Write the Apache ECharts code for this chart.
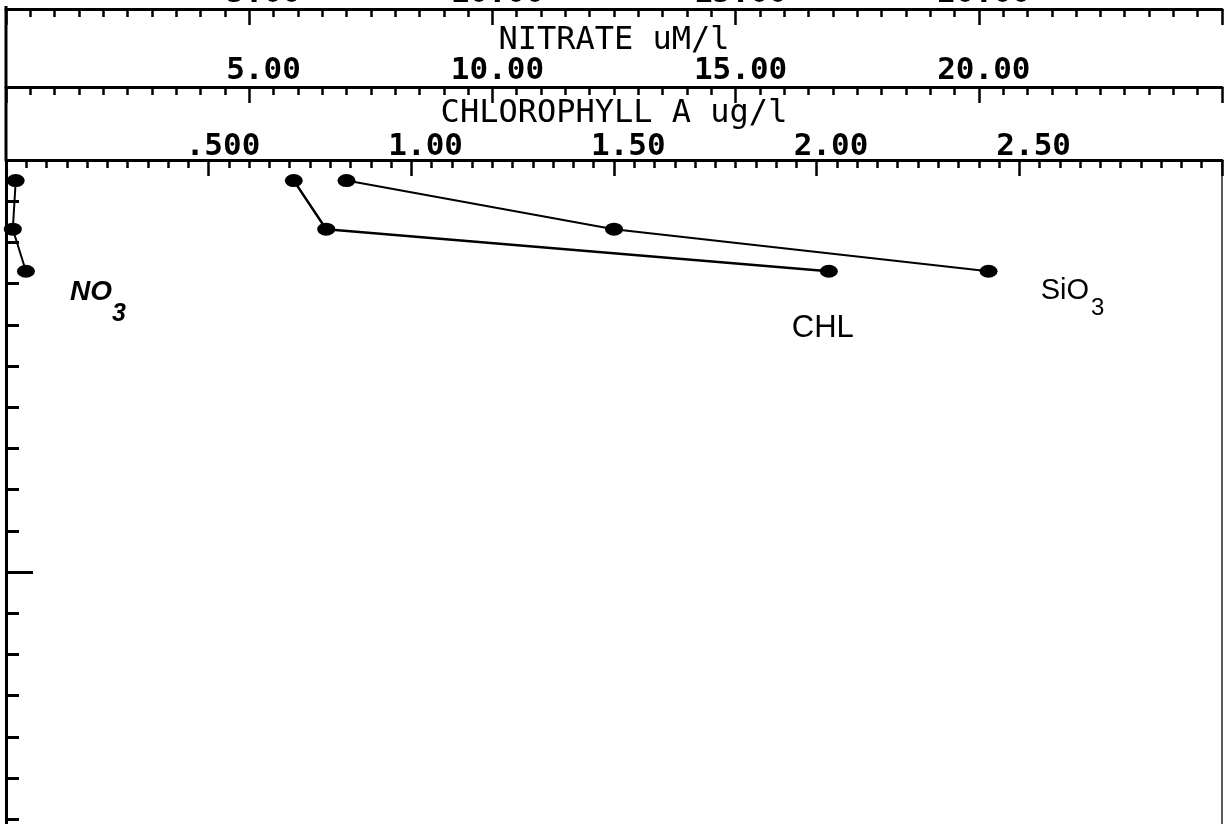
<!DOCTYPE html>
<html><head><meta charset="utf-8">
<script src="https://cdn.jsdelivr.net/npm/echarts@6/dist/echarts.min.js"></script>
<style>html,body{margin:0;padding:0;background:#fff}#c{width:1225px;height:824px}</style>
</head><body><div id="c"></div>
<script>
// ---- data ----
const depths   = [2.5, 8.4, 13.5];      // sample depths (depth axis, tick = 5)
const chlValues = [0.71, 0.79, 2.03];   // CHLOROPHYLL A ug/l
const no3Values = [0.20, 0.14, 0.41];   // NITRATE uM/l
const sio3Values = [7.0, 12.5, 20.2];   // SILICATE uM/l
const chlAxisName = 'CHLOROPHYLL A ug/l';
const no3AxisName = 'NITRATE uM/l';
const seriesNames = ['CHL', 'NO3', 'SiO3'];

// ---- layout / style ----
const GL = 6, GT = 160, GR = 3, GB = -160;
const labelFont = {fontFamily: 'DejaVu Sans Mono', fontWeight: 'bold', fontSize: 31, color: '#000'};
const nameFont = {fontFamily: 'DejaVu Sans Mono', fontWeight: 'normal', fontSize: 32, color: '#000'};
const annFont = 'Liberation Sans Narrow, Liberation Sans, sans-serif';

function fmtChl(v) { const s = v < 1 ? v.toFixed(3).slice(1) : v.toFixed(2); return s.padStart(5, ' '); }
function fmtConc(v) { return v.toFixed(2).padStart(5, ' '); }

function topAxis(min, max, interval, offset, fmt, name, nameGap, margin) {
  return {
    type: 'value', position: 'top', offset: offset, min: min, max: max, interval: interval,
    name: name || '', nameLocation: 'middle', nameGap: nameGap || 0, nameTextStyle: nameFont,
    nameMoveOverlap: false,
    axisLine: {show: true, onZero: false, lineStyle: {color: '#000', width: 3}},
    axisTick: {show: true, inside: true, length: 16, lineStyle: {color: '#000', width: 2.5}},
    minorTick: {show: true, splitNumber: 10, length: 8, lineStyle: {color: '#000', width: 2.5}},
    axisLabel: Object.assign({show: true, margin: margin, showMinLabel: false, showMaxLabel: false,
      formatter: fmt, padding: [0, 0, 0, 10]}, labelFont),
    splitLine: {show: false}, minorSplitLine: {show: false}
  };
}

function pts(xs) { return xs.map((x, i) => [x, depths[i]]); }

function annotate(arr, rich, text, offset) {
  const d = pts(arr);
  const last = d.length - 1;
  d[last] = {value: d[last], label: {show: true, position: 'inside', offset: offset,
    formatter: text, rich: rich}};
  return d;
}

const richUp = {
  a: {fontFamily: annFont, fontSize: 29, fontWeight: 'normal', color: '#000', lineHeight: 44, verticalAlign: 'top'},
  s: {fontFamily: annFont, fontSize: 24, fontWeight: 'normal', color: '#000', lineHeight: 44, verticalAlign: 'bottom', padding: [0, 0, 0, 2]}
};
const richIt = {
  a: {fontFamily: annFont, fontSize: 28, fontWeight: 'bold', fontStyle: 'italic', color: '#000', lineHeight: 48, verticalAlign: 'top'},
  s: {fontFamily: annFont, fontSize: 25, fontWeight: 'bold', fontStyle: 'italic', color: '#000', lineHeight: 48, verticalAlign: 'bottom', padding: [0, 0, 0, 0]}
};
const richChl = {
  a: {fontFamily: annFont, fontSize: 31, fontWeight: 'normal', color: '#000'}
};

const marker = {symbol: 'circle', symbolSize: [18, 13], itemStyle: {color: '#000'}};

const chart = echarts.init(document.getElementById('c'), null, {renderer: 'canvas'});
chart.setOption({
  backgroundColor: '#fff',
  animation: false,
  grid: {left: GL, top: GT, right: GR, bottom: GB, containLabel: false, outerBoundsMode: 'none'},
  xAxis: [
    topAxis(0, 3, 0.5, 0, fmtChl, chlAxisName, 30, -2),
    topAxis(0, 25, 5, 73, fmtConc, no3AxisName, 30, 1),
    topAxis(0, 25, 5, 151, fmtConc, '', 0, 0)
  ],
  yAxis: [
    {type: 'value', inverse: true, min: 0, max: 100, interval: 50, position: 'left',
     axisLine: {show: true, onZero: false, lineStyle: {color: '#000', width: 3}},
     axisTick: {show: true, inside: true, length: 27, lineStyle: {color: '#000', width: 3}},
     minorTick: {show: true, splitNumber: 10, length: 13, lineStyle: {color: '#000', width: 3}},
     axisLabel: {show: false}, splitLine: {show: false}},
    {type: 'value', inverse: true, min: 0, max: 100, position: 'right',
     axisLine: {show: true, onZero: false, lineStyle: {color: '#222', width: 1.5}},
     axisTick: {show: false}, axisLabel: {show: false}, splitLine: {show: false}}
  ],
  graphic: [
    {type: 'line', shape: {x1: GL, y1: 6, x2: GL, y2: GT}, style: {stroke: '#000', lineWidth: 3}}
  ],
  series: [
    Object.assign({type: 'line', name: seriesNames[0], xAxisIndex: 0, yAxisIndex: 0,
      lineStyle: {color: '#000', width: 2.5},
      data: annotate(chlValues, richChl, '{a|CHL}', [-6, 57])}, marker),
    Object.assign({type: 'line', name: seriesNames[1], xAxisIndex: 1, yAxisIndex: 0,
      lineStyle: {color: '#000', width: 2},
      data: annotate(no3Values, richIt, '{a|NO}{s|3}', [72, 31])}, marker),
    Object.assign({type: 'line', name: seriesNames[2], xAxisIndex: 2, yAxisIndex: 0,
      lineStyle: {color: '#000', width: 2},
      data: annotate(sio3Values, richUp, '{a|SiO}{s|3}', [84, 27])}, marker)
  ]
});
</script></body></html>
